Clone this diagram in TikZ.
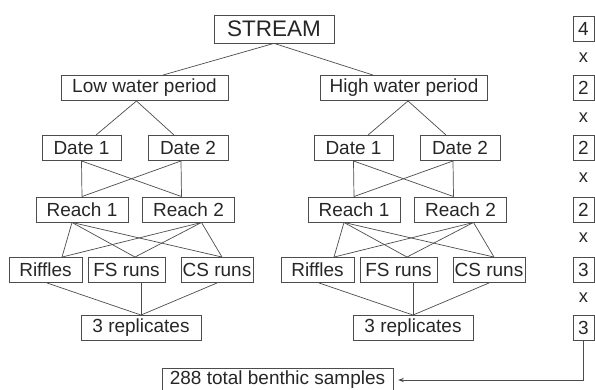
\documentclass[tikz,border=0pt]{standalone}
\usepackage{fontspec}
\setmainfont{Liberation Sans}
\usetikzlibrary{positioning,
                arrows.meta,                % arrow tips
                calc}                       % shifted anchors

\begin{document}
\begin{tikzpicture}[x=0.025cm, y=-0.025cm, line width=0.5pt,
        box/.style={draw=black!70, text=black!85, inner sep=0pt,
                    minimum height=0.63cm, font=\fontsize{13.5}{15}\selectfont},
        link/.style={draw=black!70},
        num/.style={box, minimum width=0.525cm},
        times/.style={text=black!85, inner sep=0pt, font=\fontsize{13}{15}\selectfont}]
        \useasboundingbox (0,0) rectangle (595,390);

        \node[box, minimum width=3cm, minimum height=0.7cm,
              font=\fontsize{16}{18}\selectfont] (stream) at (274,29) {STREAM};

        \foreach \s/\dx/\px/\o/\per in {low/0/144.5/-8/Low, high/272/404/4/High}
        {
        \node[box, minimum width=4.175cm] (\s) at (\px,88) {\per{} water period};

        \node[box, minimum width=1.975cm] (\s-d1) at (81.5+\dx,148) {Date 1};
        \node[box, minimum width=2cm]     (\s-d2) at (188+\dx,148) {Date 2};

        \node[box, minimum width=2.3cm] (\s-r1) at (82+\dx,209.5) {Reach 1};
        \node[box, minimum width=2.3cm] (\s-r2) at (188.5+\dx,209.5) {Reach 2};

        \node[box, minimum width=1.825cm] (\s-rif) at (45.5+\dx,270) {Riffles};
        \node[box, minimum width=1.925cm] (\s-fs)  at (126.5+\dx,270) {FS runs};
        \node[box, minimum width=1.8cm]   (\s-cs)  at (217+\dx,270) {CS runs};

        \node[box, minimum width=3cm] (\s-rep) at (141+\dx,328) {3 replicates};

        % period -> dates
        \draw[link] ($(\s.south)+(\o,0)$) -- ($(\s-d1.north)+(14.5,0)$);
        \draw[link] ($(\s.south)+(\o,0)$) -- ($(\s-d2.north)+(-14,0)$);

        % dates -> reaches
        \draw[link] (\s-d1.south) -- (\s-r1.north);
        \draw[link] (\s-d1.south) -- ($(\s-r2.north)+(-7,0)$);
        \draw[link] ($(\s-d2.south)+(-7,0)$) -- (\s-r1.north);
        \draw[link] ($(\s-d2.south)+(-7,0)$) -- ($(\s-r2.north)+(-7,0)$);

        % reaches -> habitats
        \foreach \h/\hx in {rif/16.5, fs/8.5, cs/5}
        {
        \draw[link] ($(\s-r1.south)+(-10,0)$) -- ($(\s-\h.north)+(\hx,0)$);
        \draw[link] ($(\s-r2.south)+(13,0)$) -- ($(\s-\h.north)+(\hx,0)$);
        }

        % habitats -> replicates
        \draw[link] ($(\s-rif.south)+(1.5,0)$) -- (\s-rep.north);
        \draw[link] (\s-rep.north |- \s-fs.south) -- (\s-rep.north);
        \draw[link] (\s-cs.south) -- (\s-rep.north);
        }

        \draw[link] (stream.south) -- ($(low.north)+(18.5,0)$);
        \draw[link] (stream.south) -- ($(high.north)+(-31,0)$);

        % multipliers
        \foreach \n/\y/\v in {n1/29/4, n2/88/2, n3/148/2, n4/209.5/2, n5/270/3, n6/328/3}
        { \node[num] (\n) at (583.5,\y) {\v}; }
        \foreach \t/\y in {t1/58, t2/118, t3/178, t4/238, t5/298}
        { \node[times] (\t) at (583.5,\y) {x}; }

        \node[box, minimum width=5.775cm, minimum height=0.6cm] (total) at (277.5,380)
             {288 total benthic samples};
        \draw[link, -{Stealth[length=4pt, width=3pt]}, shorten >=0.12cm]
             (n6.south) |- (total.east);

    \end{tikzpicture}
\end{document}
